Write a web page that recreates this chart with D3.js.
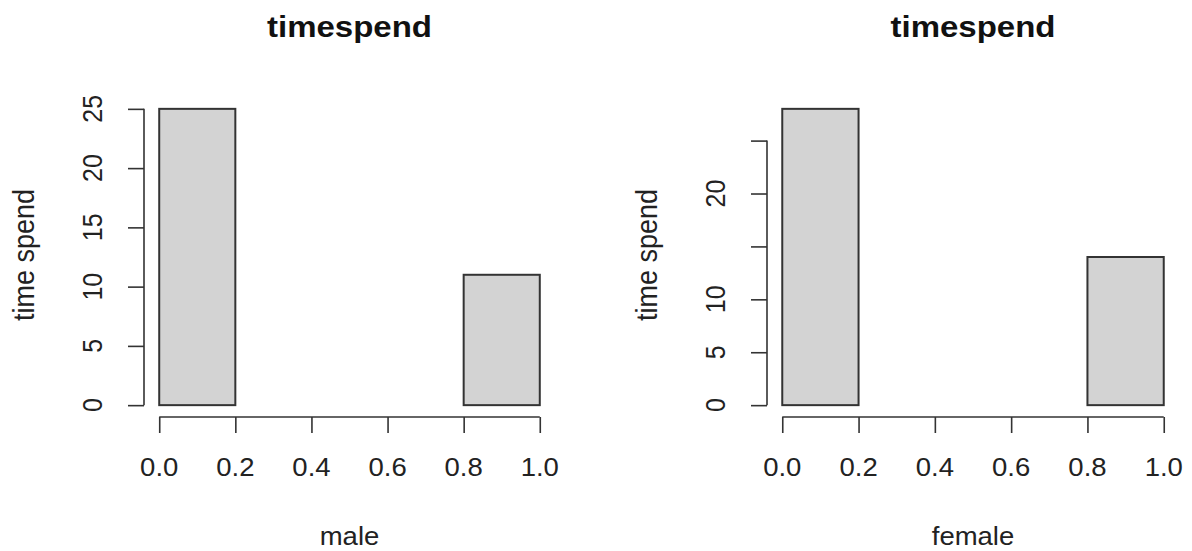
<!DOCTYPE html>
<meta charset="utf-8">
<style>
  body { margin: 0; background: #fff; }
  text { font-family: "Liberation Sans", Arial, sans-serif; fill: #222; }
</style>
<body></body>
<script src="https://cdn.jsdelivr.net/npm/d3@7"></script>
<script>

var width = 1192,
    height = 551;

// histogram data (bins of 0.2 on [0, 1])
var breaks = [0, 0.2, 0.4, 0.6, 0.8, 1.0];
var maleCounts = [25, 0, 0, 0, 11];
var femaleCounts = [28, 0, 0, 0, 14];

var xTicks = [0, 0.2, 0.4, 0.6, 0.8, 1.0];
var xTickLabels = ["0.0", "0.2", "0.4", "0.6", "0.8", "1.0"];
var yTicks = [0, 5, 10, 15, 20, 25];
var maleYLabels = ["0", "5", "10", "15", "20", "25"];
var femaleYLabels = ["0", "5", "10", "", "20", ""];

var titles = ["timespend", "timespend"];
var xLabels = ["male", "female"];
var yLabel = "time spend";

// plot regions in pixels
var panels = [
  { left: 144, right: 555, counts: maleCounts, yLabels: maleYLabels },
  { left: 767, right: 1179, counts: femaleCounts, yLabels: femaleYLabels }
];
var plotTop = 97, plotBottom = 417;
var stretch = 1.1,
    fontSize = 25;

var svg = d3.select("body").append("svg")
    .attr("width", width)
    .attr("height", height);

function label(g, x, y, txt, rot, size, weight) {
  return g.append("text")
      .attr("transform", "translate(" + x + "," + y + ") scale(" + stretch + ",1)" + (rot ? " rotate(-90)" : ""))
      .attr("text-anchor", "middle")
      .style("font-size", (size || fontSize) + "px")
      .style("font-weight", weight || "normal")
      .text(txt);
}

panels.forEach(function(p, k) {
  var ymax = d3.max(p.counts);
  var x = d3.scaleLinear().domain([-0.04, 1.04]).range([p.left, p.right]);
  var y = d3.scaleLinear().domain([-0.04 * ymax, 1.04 * ymax]).range([plotBottom, plotTop]);
  var g = svg.append("g");
  var bins = p.counts.map(function(c, i) { return { x0: breaks[i], x1: breaks[i + 1], n: c }; });

  g.selectAll("rect")
      .data(bins)
    .enter().append("rect")
      .attr("x", function(d) { return x(d.x0); })
      .attr("width", function(d) { return x(d.x1) - x(d.x0); })
      .attr("y", function(d) { return y(d.n); })
      .attr("height", function(d) { return y(0) - y(d.n); })
      .style("fill", "#d3d3d3")
      .style("stroke", "#333")
      .style("stroke-width", 2);

  // x axis, R style
  var xa = g.append("g").attr("transform", "translate(0," + plotBottom + ")")
      .call(d3.axisBottom(x).tickValues(xTicks).tickSize(16).tickSizeOuter(0).tickFormat(""));
  xa.select(".domain").attr("d", "M" + x(xTicks[0]) + ",0H" + x(xTicks[xTicks.length - 1]));
  xa.selectAll("line, path").attr("stroke", "#333").attr("stroke-width", 1.6);
  xTicks.forEach(function(t, i) { label(g, x(t), 476, xTickLabels[i]); });

  // y axis
  var ya = g.append("g").attr("transform", "translate(" + p.left + ",0)")
      .call(d3.axisLeft(y).tickValues(yTicks).tickSize(16).tickSizeOuter(0).tickFormat(""));
  ya.select(".domain").attr("d", "M0," + y(yTicks[0]) + "V" + y(yTicks[yTicks.length - 1]));
  ya.selectAll("line, path").attr("stroke", "#333").attr("stroke-width", 1.6);
  yTicks.forEach(function(t, i) {
    if (p.yLabels[i]) label(g, p.left - 42, y(t), p.yLabels[i], true);
  });

  var cx = (p.left + p.right) / 2;
  label(g, cx, 37, titles[k], false, 30, "bold").style("fill", "#111");
  label(g, cx, 545, xLabels[k]);
  label(g, p.left - 110, (plotTop + plotBottom) / 2 - 2, yLabel, true, 27);
});

</script>
